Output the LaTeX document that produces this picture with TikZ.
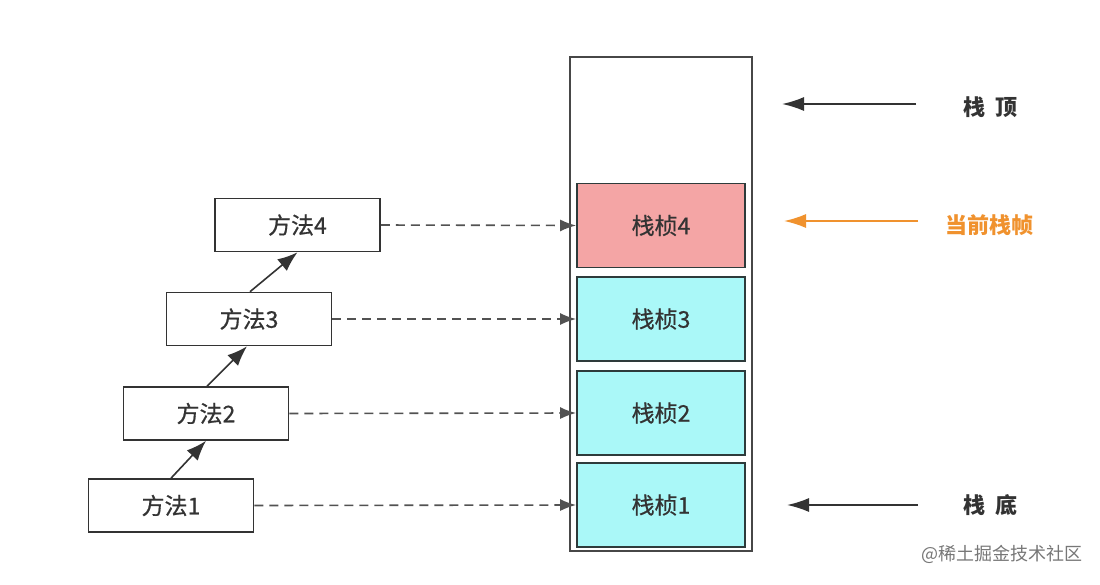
\documentclass[tikz,border=0pt]{standalone}
\usepackage{fontspec}
\setmainfont{Noto Sans CJK SC}
\newfontfamily\medfont{Noto Sans CJK SC}[RawFeature={embolden=0.7}]
\usetikzlibrary{arrows.meta}
\definecolor{linegray}{HTML}{333333}
\definecolor{framecyan}{HTML}{AAF8F8}
\definecolor{framepink}{HTML}{F4A5A5}
\definecolor{curorange}{HTML}{F0922E}
\definecolor{wmgray}{HTML}{777777}
\tikzset{
  methodbox/.style={draw=linegray, line width=1.6pt, fill=white, minimum width=165pt, minimum height=53pt, inner sep=0pt, font=\medfont\fontsize{23}{23}\selectfont, text=linegray},
  framebox/.style={draw=linegray!90!teal, line width=1.8pt, minimum width=168pt, minimum height=84pt, inner sep=0pt, font=\medfont\fontsize{23}{23}\selectfont, text=linegray},
  callarrow/.style={draw=linegray, line width=1.6pt, -{Latex[length=20pt,width=15pt]}},
  maparrow/.style={draw=linegray!85, line width=1.6pt, dash pattern=on 9pt off 6pt, -{Latex[length=16pt,width=12pt,sep=0pt]}},
  sidearrow/.style={draw=linegray, line width=1.8pt, -{Latex[length=22pt,width=14pt]}},
  sidelabel/.style={font=\bfseries\fontsize{22}{22}\selectfont, text=linegray, inner sep=0pt}
}
\begin{document}
\begin{tikzpicture}[x=1pt,y=-1pt]
\useasboundingbox[fill=white] (0,0) rectangle (1100,584);
% stack container
\node[draw=linegray!90, line width=1.6pt, minimum width=182pt, minimum height=494pt, inner sep=0pt] (stack) at (661,304) {};
% frames
\node[framebox, fill=framepink] (f4) at (661,225.5) {栈桢4};
\node[framebox, fill=framecyan] (f3) at (661,319) {栈桢3};
\node[framebox, fill=framecyan] (f2) at (661,413) {栈桢2};
\node[framebox, fill=framecyan] (f1) at (661,505) {栈桢1};
% methods
\node[methodbox] (m4) at (297.5,225) {方法4};
\node[methodbox] (m3) at (249,319) {方法3};
\node[methodbox] (m2) at (206,413.5) {方法2};
\node[methodbox] (m1) at (171,505.5) {方法1};
% call arrows
\draw[callarrow] (m1.north) -- (m2.south);
\draw[callarrow] ([xshift=1pt]m2.north) -- ([xshift=-2pt]m3.south);
\draw[callarrow] ([xshift=1pt]m3.north) -- (m4.south);
% dashed mapping arrows
\draw[maparrow] (m4.east) -- (f4.west);
\draw[maparrow] (m3.east) -- (f3.west);
\draw[maparrow] (m2.east) -- (f2.west);
\draw[maparrow] (m1.east) -- (f1.west);
% side labels
\node[sidelabel] (top) at (990,107) {栈\hspace{10pt}顶};
\node[sidelabel, text=curorange] (cur) at (989,225) {当前栈帧};
\node[sidelabel] (bottom) at (990,505) {栈\hspace{10pt}底};
\coordinate (topS) at (916,104);
\coordinate (topE) at (782,104);
\coordinate (curS) at (918,221);
\coordinate (curE) at (784,221);
\coordinate (botS) at (918,505);
\coordinate (botE) at (787,505);
\draw[sidearrow] (topS) -- (topE);
\draw[sidearrow, draw=curorange] (curS) -- (curE);
\draw[sidearrow] (botS) -- (botE);
% watermark
\node[font=\fontsize{18}{18}\selectfont, text=wmgray, inner sep=0pt] (wm) at (1002,554) {@稀土掘金技术社区};
\end{tikzpicture}
\end{document}
